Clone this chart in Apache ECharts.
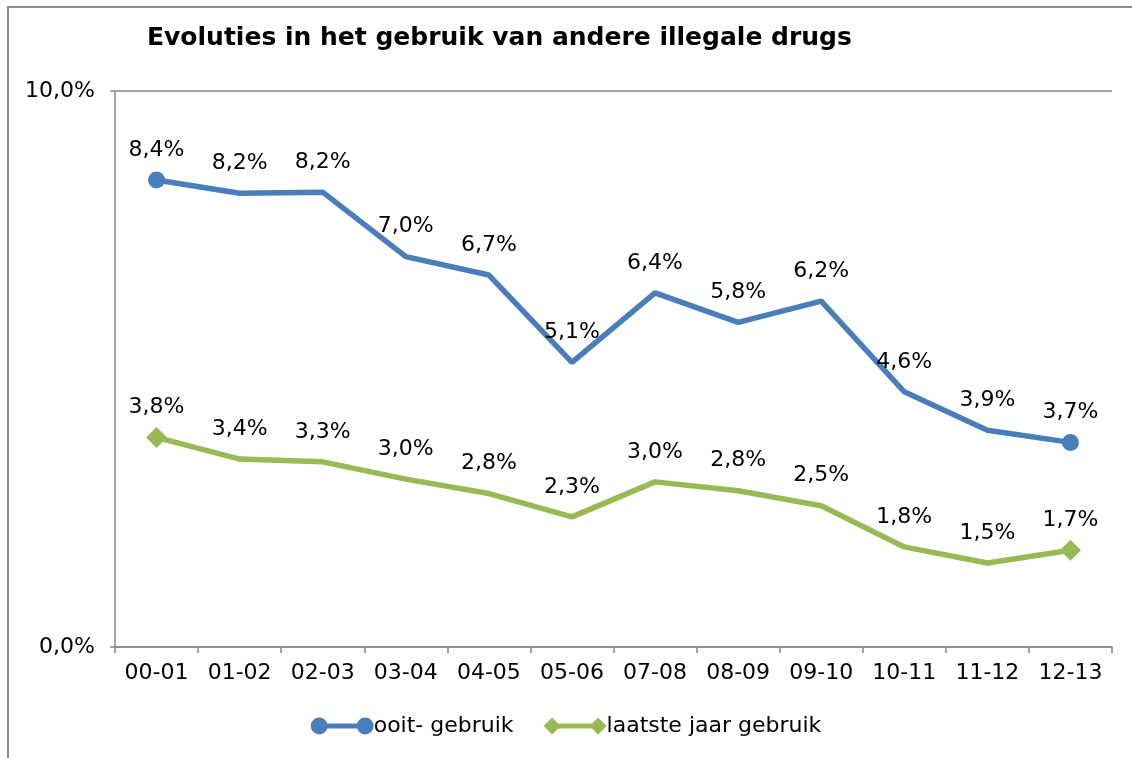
<!DOCTYPE html>
<html>
<head>
<meta charset="UTF-8">
<title>Evoluties in het gebruik van andere illegale drugs</title>
<script src="https://cdn.jsdelivr.net/npm/echarts@6/dist/echarts.min.js"></script>
<style>
  html, body { margin: 0; padding: 0; background: #fff; }
  #main { width: 1132px; height: 758px; }
</style>
</head>
<body>
<div id="main"></div>
<script>
  // schooljaren
  var categories = ['00-01', '01-02', '02-03', '03-04', '04-05', '05-06', '07-08', '08-09', '09-10', '10-11', '11-12', '12-13'];
  // waarden in procent
  var ooitGebruik = [8.4, 8.16, 8.18, 7.02, 6.69, 5.12, 6.37, 5.84, 6.22, 4.59, 3.9, 3.68];
  var laatsteJaar = [3.77, 3.38, 3.33, 3.02, 2.76, 2.34, 2.97, 2.81, 2.54, 1.8, 1.51, 1.74];
  var yTicks = [0, 10];

  var blue = '#4a7ebb';
  var green = '#98b954';
  var grey = '#868686';
  var font = 'DejaVu Sans, Verdana, sans-serif';

  function pct(v) {
    return v.toFixed(1).replace('.', ',') + '%';
  }

  // alleen eerste en laatste punt krijgen een marker
  function markerSize(size, n) {
    return function (val, params) {
      return (params.dataIndex === 0 || params.dataIndex === n - 1) ? size : 1;
    };
  }

  var circleIcon = 'path://M0,8.5 A8.5,8.5 0 1 1 17,8.5 A8.5,8.5 0 1 1 0,8.5 Z ' +
    'M46,8.5 A8.5,8.5 0 1 1 63,8.5 A8.5,8.5 0 1 1 46,8.5 Z ' +
    'M8.5,6 L54.5,6 L54.5,11 L8.5,11 Z';
  var diamondIcon = 'path://M0,8.5 L8.5,0 L17,8.5 L8.5,17 Z ' +
    'M46,8.5 L54.5,0 L63,8.5 L54.5,17 Z ' +
    'M8.5,6 L54.5,6 L54.5,11 L8.5,11 Z';

  var labelOpt = {
    show: true,
    position: 'inside',
    offset: [0, -30],
    color: '#000',
    fontFamily: font,
    fontSize: 22,
    formatter: function (p) { return pct(p.value); }
  };

  var myChart = echarts.init(document.getElementById('main'));
  var option = {
    animation: false,
    textStyle: { fontFamily: font },
    graphic: [{
      type: 'polyline',
      shape: { points: [[8, 800], [8, 7], [1200, 7]] },
      style: { fill: 'none', stroke: '#8c8c8c', lineWidth: 2 },
      silent: true
    }],
    title: {
      text: 'Evoluties in het gebruik van andere illegale drugs',
      left: 147,
      top: 26,
      padding: 0,
      textStyle: { fontFamily: font, fontSize: 25, fontWeight: 'bold', color: '#000' }
    },
    grid: {
      left: 115,
      right: 20,
      top: 91,
      bottom: 111,
      containLabel: false
    },
    legend: {
      bottom: 16,
      left: 'center',
      itemGap: 30,
      itemWidth: 63,
      itemHeight: 17,
      textStyle: { fontFamily: font, fontSize: 22, color: '#000', padding: [0, 0, 0, -5] },
      data: [
        { name: 'ooit- gebruik', icon: circleIcon, itemStyle: { color: blue } },
        { name: 'laatste jaar gebruik', icon: diamondIcon, itemStyle: { color: green } }
      ]
    },
    xAxis: {
      type: 'category',
      data: categories,
      boundaryGap: true,
      axisLine: { lineStyle: { color: grey, width: 1.5 } },
      axisTick: { show: true, interval: 0, length: 6, lineStyle: { color: grey, width: 1.5 } },
      axisLabel: { interval: 0, color: '#000', fontFamily: font, fontSize: 22, margin: 15 }
    },
    yAxis: {
      type: 'value',
      min: yTicks[0],
      max: yTicks[1],
      interval: 10,
      axisLine: { show: true, lineStyle: { color: grey, width: 1.5 } },
      axisTick: { show: true, length: 5, lineStyle: { color: grey, width: 1.5 } },
      splitLine: { show: true, lineStyle: { color: grey, width: 1.5 } },
      axisLabel: {
        color: '#000', fontFamily: font, fontSize: 22, margin: 20,
        formatter: function (v) { return pct(v); }
      }
    },
    series: [{
      name: 'ooit- gebruik',
      type: 'line',
      data: ooitGebruik,
      symbol: 'circle',
      symbolSize: markerSize(17, ooitGebruik.length),
      lineStyle: { color: blue, width: 5.5 },
      itemStyle: { color: blue },
      label: labelOpt,
      z: 3
    }, {
      name: 'laatste jaar gebruik',
      type: 'line',
      data: laatsteJaar,
      symbol: 'diamond',
      symbolSize: markerSize(21, laatsteJaar.length),
      lineStyle: { color: green, width: 5.5 },
      itemStyle: { color: green },
      label: labelOpt,
      z: 2
    }]
  };
  myChart.setOption(option);
</script>
</body>
</html>
